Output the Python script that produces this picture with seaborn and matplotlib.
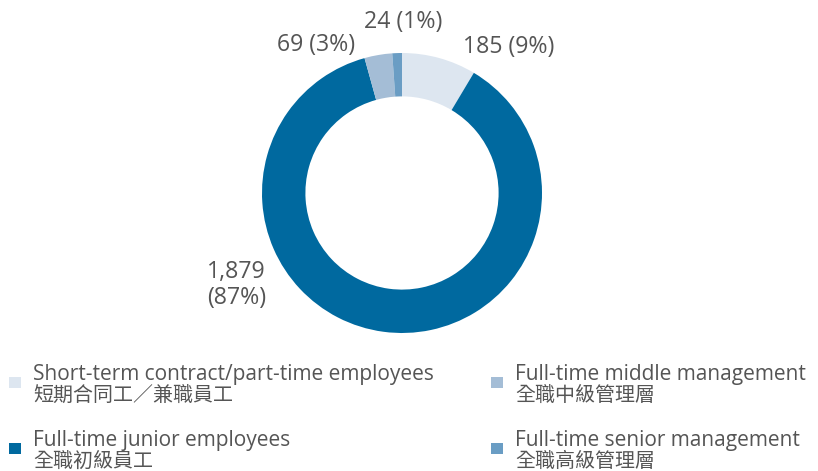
import matplotlib.pyplot as plt
import seaborn as sns
from matplotlib.patches import Rectangle

sns.set_theme(style="white")
plt.rcParams['font.family'] = ['Open Sans', 'Noto Sans CJK TC', 'DejaVu Sans']

# data
values = [185, 1879, 69, 24]
percents = ["9%", "87%", "3%", "1%"]
labels_en = ["Short-term contract/part-time employees", "Full-time junior employees",
             "Full-time middle management", "Full-time senior management"]
labels_zh = ["短期合同工／兼職員工", "全職初級員工", "全職中級管理層", "全職高級管理層"]
colors = ["#dde6f0", "#00699f", "#a4bdd6", "#6a9dc4"]

W, H = 818, 471
fig = plt.figure(figsize=(W / 100, H / 100), dpi=100)

# donut: centre (402,193), radius 140 px
cx, cy, r = 402, 193, 140
ax = fig.add_axes([(cx - r) / W, 1 - (cy + r) / H, 2 * r / W, 2 * r / H])
ax.pie(values, colors=colors, startangle=90, counterclock=False, radius=1,
       wedgeprops=dict(width=0.31, linewidth=0))
ax.set_xlim(-1, 1)
ax.set_ylim(-1, 1)
ax.set_aspect('equal')
ax.axis('off')

txt = "#555555"


def fx(x):
    return x / W


def fy(y):
    return 1 - y / H


# slice labels
fig.text(fx(463), fy(47), f"{values[0]} ({percents[0]})", fontsize=16.7, color=txt, va='center', ha='left')
fig.text(fx(266), fy(285), f"{values[1]:,}\n({percents[1]})", fontsize=16.7, color=txt,
         va='center', ha='right', multialignment='right', linespacing=1.15)
fig.text(fx(355), fy(45), f"{values[2]} ({percents[2]})", fontsize=16.7, color=txt, va='center', ha='right')
fig.text(fx(403), fy(22), f"{values[3]} ({percents[3]})", fontsize=16.7, color=txt, va='center', ha='center')

# legend
pos = [(9, 377), (9, 443), (491, 377), (491, 443)]
for i, (x, y) in enumerate(pos):
    fig.patches.append(Rectangle((fx(x), fy(y + 11)), 12 / W, 11 / H, transform=fig.transFigure,
                                 facecolor=colors[i], edgecolor='none'))
    fig.text(fx(x + 24), fy(y + 3), labels_en[i], fontsize=15, color=txt, va='baseline', ha='left')
    fig.text(fx(x + 24), fy(y + 24), labels_zh[i], fontsize=14.4, color=txt, va='baseline', ha='left',
             fontweight='medium')

fig.savefig("out.png", dpi=100, facecolor='white')
